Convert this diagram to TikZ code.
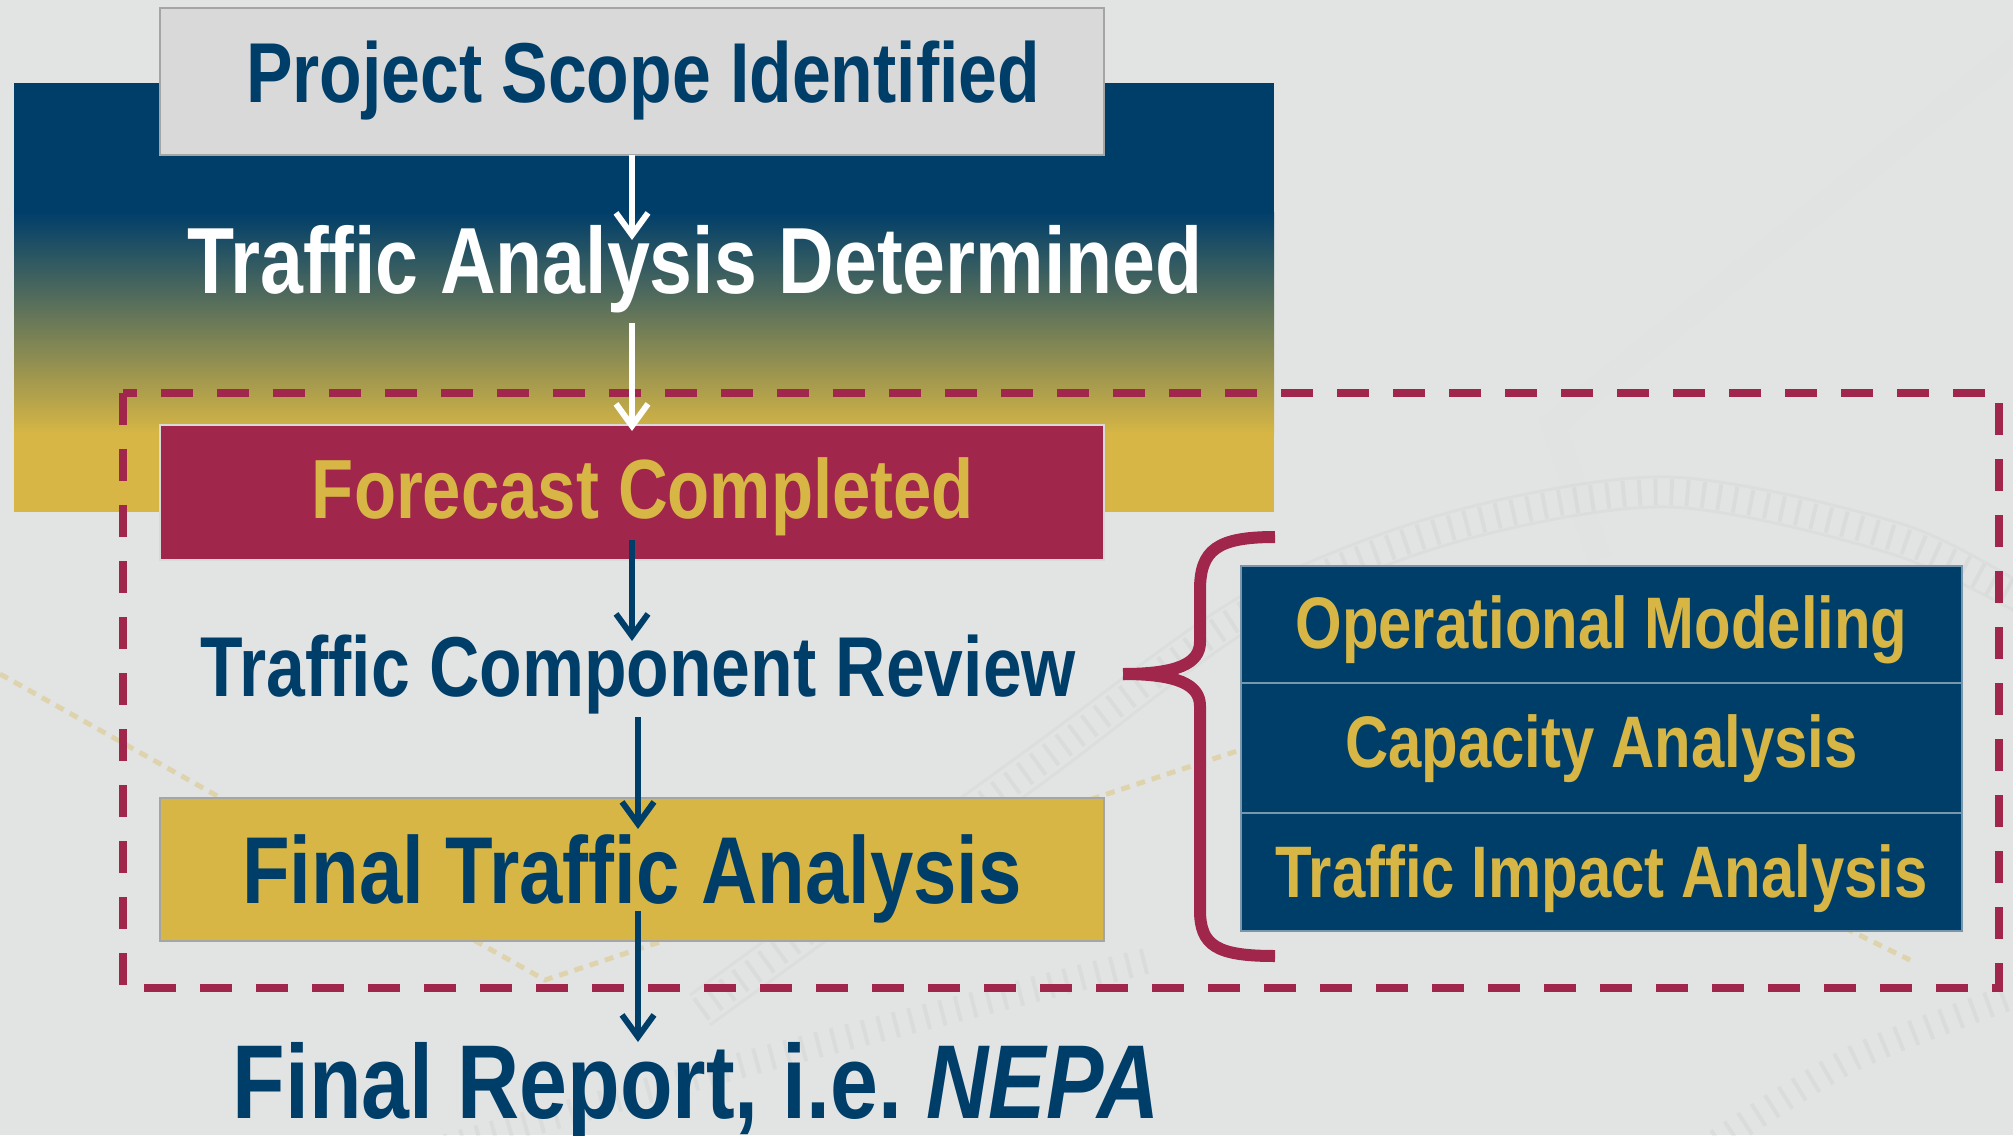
\documentclass[tikz,border=0pt]{standalone}
\usepackage{fontspec}
\setmainfont{Liberation Sans}[FakeStretch=0.82,Ligatures=NoCommon]
\usetikzlibrary{arrows.meta,calc}
\frenchspacing

\definecolor{navy}{RGB}{0,62,106}
\definecolor{crimson}{RGB}{160,38,75}
\definecolor{gold}{RGB}{215,182,69}
\definecolor{paper}{RGB}{226,228,228}
\definecolor{boxgray}{RGB}{217,217,217}
\definecolor{boxedge}{RGB}{165,165,165}
\definecolor{subedge}{RGB}{120,150,172}

\tikzset{
  every node/.style={inner sep=0pt, outer sep=0pt},
  lbl/.style={anchor=base, font=\bfseries\fontsize{#1}{#1}\selectfont},
  stage/.style={rectangle, draw=boxedge, line width=1.5pt, minimum width=944pt},
  subbox/.style={rectangle, fill=navy, draw=subedge, line width=1.5pt, minimum width=721pt},
  flow/.style={line width=6pt, -{Straight Barb[length=22pt,width=32pt]}},
  brace/.style={draw=crimson, line width=12pt},
  frame/.style={draw=crimson, line width=8.5pt, dash pattern=on 32pt off 24pt},
  ties/.style={line width=26pt, dash pattern=on 4pt off 12pt, draw=black!35, opacity=0.12},
  rail/.style={line width=3pt, draw=black!30, opacity=0.11},
}

\begin{document}
\begin{tikzpicture}[x=1pt, y=-1pt]
\useasboundingbox (0,0) rectangle (2013,1135);

% backdrop with faint railway pattern
\begin{scope}
  \clip (0,0) rectangle (2013,1135);
  \fill[paper] (0,0) rectangle (2013,1135);
  \draw[line width=24pt, draw=black!12, opacity=0.35] (2040,30) -- (1553,424) -- (1600,560);
  \draw[ties] plot[smooth] coordinates {(700,1010) (1030,770) (1250,610) (1450,528) (1669,492) (1900,540) (2040,610)};
  \draw[rail] plot[smooth] coordinates {(690,995) (1020,755) (1243,595) (1447,513) (1669,477) (1905,525) (2040,595)};
  \draw[rail] plot[smooth] coordinates {(710,1025) (1040,785) (1257,625) (1453,543) (1669,507) (1895,555) (2040,625)};
  \draw[ties] plot[smooth] coordinates {(400,1160) (760,1060) (1150,960)};
  \draw[ties] plot[smooth] coordinates {(1690,1160) (1850,1060) (2030,990)};
  \draw[gold, opacity=0.35, line width=5pt, dash pattern=on 9pt off 7pt]
    (0,674) -- (545,980) -- (1240,750);
  \draw[gold, opacity=0.35, line width=5pt, dash pattern=on 9pt off 7pt]
    (1845,928) -- (1910,960);
\end{scope}

% colour band behind the upper stages
\fill[navy] (14,83) rectangle (1274,214);
\shade[top color=navy, bottom color=gold] (14,212) rectangle (1274,434);
\fill[gold] (14,432) rectangle (1274,512);

% dashed frame round the analysis stages
\draw[frame] (123,393) rectangle (1999,988);

% stage boxes
\node[stage, fill=boxgray, minimum height=147pt] (scope) at (632,81.5) {};
\node[stage, fill=crimson, draw=boxgray, minimum height=135pt] (forecast) at (632,492.5) {};
\node[stage, fill=gold, minimum height=143pt] (final) at (632,869.5) {};

% component boxes
\node[subbox, minimum height=117pt] (opmod) at (1601.5,624.5) {};
\node[subbox, minimum height=130pt] (capan) at (1601.5,748) {};
\node[subbox, minimum height=118pt] (tia) at (1601.5,872) {};

% brace joining the review to its components
\coordinate (bracetop) at (1275,537);
\coordinate (bracetip) at (1123,674);
\coordinate (bracebot) at (1275,956);
\draw[brace] (bracetop) .. controls (1217,537) and (1200,550) .. (1200,590)
  -- (1200,642) .. controls (1200,664) and (1176,674) .. (bracetip);
\draw[brace] (bracetip) .. controls (1176,674) and (1200,684) .. (1200,706)
  -- (1200,910) .. controls (1200,946) and (1217,956) .. (bracebot);

% labels
\node[lbl=85, text=navy] (scopetxt) at (643,102) {Project Scope Identified};
\node[lbl=94, text=white] (determined) at (695,293) {Traffic Analysis Determined};
\node[lbl=84, text=gold] (forecasttxt) at (643,518) {Forecast Completed};
\node[lbl=85, text=navy] (review) at (638.5,696) {Traffic Component Review};
\node[lbl=95, text=navy] (finaltxt) at (632,903) {Final Traffic Analysis};
\node[lbl=105, text=navy] (report) at (696,1118) {Final Report, i.e. \textit{NEPA}};

\node[lbl=73, text=gold] at ([yshift=-23.5pt]opmod.center) {Operational Modeling};
\node[lbl=73, text=gold] at ([yshift=-19pt]capan.center) {Capacity Analysis};
\node[lbl=73, text=gold] at ([yshift=-25pt]tia.center) {Traffic Impact Analysis};

% flow arrows
\coordinate (a1end) at (632,240);
\coordinate (a2start) at (632,323);
\coordinate (a2end) at (632,431);
\coordinate (a3start) at (632,540);
\coordinate (a3end) at (632,641);
\coordinate (a4start) at (638,717);
\coordinate (a4end) at (638,829);
\coordinate (a5start) at (638,911);
\coordinate (a5end) at (638,1042);
\draw[flow, white] (scope.south -| a1end) -- (a1end);
\draw[flow, white] (a2start) -- (a2end);
\draw[flow, navy] (a3start) -- (a3end);
\draw[flow, navy] (a4start) -- (a4end);
\draw[flow, navy] (a5start) -- (a5end);
\end{tikzpicture}
\end{document}
